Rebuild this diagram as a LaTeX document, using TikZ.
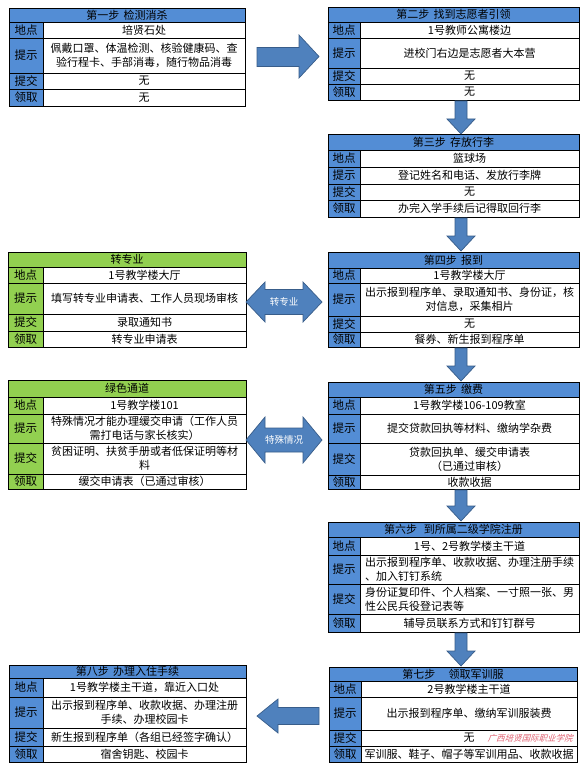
\documentclass[tikz,border=0pt]{standalone}
\usepackage{fontspec}
\setmainfont{Noto Sans CJK SC}
\definecolor{hblue}{HTML}{538DD5}
\definecolor{hgreen}{HTML}{92D050}
\definecolor{ablue}{HTML}{4F81BD}
\definecolor{aedge}{HTML}{385D8A}
\definecolor{wmred}{HTML}{E06070}
\newcommand\fsz{\fontsize{11pt}{14pt}\selectfont}
\def\cf{hblue}
\tikzset{
  cellbase/.style={rectangle, draw=black, line width=0.7pt, inner sep=0pt, outer sep=0pt, font=\fsz, text=black, align=center},
  hdrcell/.style={cellbase, fill=\cf},
  labcell/.style={cellbase, fill=\cf, font=\fontsize{11.5pt}{14pt}\selectfont},
  concell/.style={cellbase, fill=white},
  blockarrow/.style={fill=ablue, draw=aedge, line width=0.7pt, line join=miter},
  arrowtext/.style={text=white, font=\fontsize{9.5pt}{11pt}\selectfont, inner sep=0pt}
}
\newcommand\mkhdr[6]{\pgfmathsetmacro\bxw{#3-#2}\pgfmathsetmacro\bxh{#5-#4}%
  \node[hdrcell, minimum width=\bxw pt, minimum height=\bxh pt] (#1) at ({(#2+#3)/2},{(#4+#5)/2}) {#6};}
\newcommand\mkrow[9]{\pgfmathsetmacro\bxl{#3-#2}\pgfmathsetmacro\bxw{#4-#3}\pgfmathsetmacro\bxh{#6-#5}%
  \node[labcell, minimum width=\bxl pt, minimum height=\bxh pt] (#1l) at ({(#2+#3)/2},{(#5+#6)/2}) {#7};
  \node[concell, align=#9, minimum width=\bxw pt, minimum height=\bxh pt] (#1c) at ({(#3+#4)/2},{(#5+#6)/2}) {#8};}
\newcommand\darrow[3]{%
  \draw[blockarrow] (455,#1) -- (467,#1) -- (467,#2) -- (475,#2) -- (461,#3) -- (447,#2) -- (455,#2) -- cycle;}
\newcommand\dblarrow[3]{%
  \draw[blockarrow] (246,#1) -- (265,{#1-#3}) -- (265,{#1-#2}) -- (303,{#1-#2}) -- (303,{#1-#3}) -- (322,#1)
     -- (303,{#1+#3}) -- (303,{#1+#2}) -- (265,{#1+#2}) -- (265,{#1+#3}) -- cycle;}
\begin{document}
\begin{tikzpicture}[x=1pt,y=-1pt]
\useasboundingbox[fill=white] (0,0) rectangle (585,770);

% ---- Step 1
\mkhdr{s1h}{9}{245}{8}{22}{第一步\hspace{0.4em}检测消杀}
\mkrow{s1a}{9}{43}{245}{22}{38}{地点}{培贤石处}{center}
\mkrow{s1b}{9}{43}{245}{38}{73}{提示}{佩戴口罩、体温检测、核验健康码、查\\验行程卡、手部消毒，随行物品消毒}{center}
\mkrow{s1c}{9}{43}{245}{73}{89}{提交}{无}{center}
\mkrow{s1d}{9}{43}{245}{89}{106}{领取}{无}{center}

% ---- Step 2
\mkhdr{s2h}{328}{579}{7}{22}{第二步\hspace{0.4em}找到志愿者引领}
\mkrow{s2a}{328}{360}{579}{22}{38}{地点}{1号教师公寓楼边}{center}
\mkrow{s2b}{328}{360}{579}{38}{68}{提示}{进校门右边是志愿者大本营}{center}
\mkrow{s2c}{328}{360}{579}{68}{84}{提交}{无}{center}
\mkrow{s2d}{328}{360}{579}{84}{100}{领取}{无}{center}

% ---- Step 3
\mkhdr{s3h}{328}{579}{134}{150}{第三步\hspace{0.4em}存放行李}
\mkrow{s3a}{328}{360}{579}{150}{167}{地点}{篮球场}{center}
\mkrow{s3b}{328}{360}{579}{167}{184}{提示}{登记姓名和电话、发放行李牌}{center}
\mkrow{s3c}{328}{360}{579}{184}{200}{提交}{无}{center}
\mkrow{s3d}{328}{360}{579}{200}{217}{领取}{办完入学手续后记得取回行李}{center}

% ---- Step 4
\mkhdr{s4h}{328}{579}{252}{268}{第四步\hspace{0.4em}报到}
\mkrow{s4a}{328}{360}{579}{268}{283}{地点}{1号教学楼大厅}{center}
\mkrow{s4b}{328}{360}{579}{283}{316}{提示}{出示报到程序单、录取通知书、身份证，核\\对信息，采集相片}{center}
\mkrow{s4c}{328}{360}{579}{316}{332}{提交}{无}{center}
\mkrow{s4d}{328}{360}{579}{332}{347}{领取}{餐券、新生报到程序单}{center}

% ---- Step 5
\mkhdr{s5h}{328}{579}{382}{397}{第五步\hspace{0.4em}缴费}
\mkrow{s5a}{328}{360}{579}{397}{414}{地点}{1号教学楼106-109教室}{center}
\mkrow{s5b}{328}{360}{579}{414}{443}{提示}{提交贷款回执等材料、缴纳学杂费}{center}
\mkrow{s5c}{328}{360}{579}{443}{475}{提交}{贷款回执单、缓交申请表\\（已通过审核）}{center}
\mkrow{s5d}{328}{360}{579}{475}{489}{领取}{收款收据}{center}

% ---- Step 6
\mkhdr{s6h}{328}{579}{522}{537}{第六步\hspace{0.6em}到所属二级学院注册}
\mkrow{s6a}{328}{360}{579}{537}{555}{地点}{1号、2号教学楼主干道}{center}
\mkrow{s6b}{328}{360}{579}{555}{584}{提示}{出示报到程序单、收款收据、办理注册手续\\、加入钉钉系统}{left}
\mkrow{s6c}{328}{360}{579}{584}{614}{提交}{身份证复印件、个人档案、一寸照一张、男\\性公民兵役登记表等}{left}
\mkrow{s6d}{328}{360}{579}{614}{632}{领取}{辅导员联系方式和钉钉群号}{center}

% ---- Step 7
\mkhdr{s7h}{329}{577}{667}{681}{第七步\hspace{1.2em}领取军训服}
\mkrow{s7a}{329}{361}{577}{681}{697}{地点}{2号教学楼主干道}{center}
\mkrow{s7b}{329}{361}{577}{697}{730}{提示}{出示报到程序单、缴纳军训服装费}{center}
\mkrow{s7c}{329}{361}{577}{730}{746}{提交}{无}{center}
\mkrow{s7d}{329}{361}{577}{746}{762}{领取}{军训服、鞋子、帽子等军训用品、收款收据}{center}

% ---- Step 8
\mkhdr{s8h}{9}{246}{665}{678}{第八步\hspace{0.4em}办理入住手续}
\mkrow{s8a}{9}{43}{246}{678}{697}{地点}{1号教学楼主干道，靠近入口处}{center}
\mkrow{s8b}{9}{43}{246}{697}{728}{提示}{出示报到程序单、收款收据、办理注册\\手续、办理校园卡}{center}
\mkrow{s8c}{9}{43}{246}{728}{746}{提交}{新生报到程序单（各组已经签字确认）}{center}
\mkrow{s8d}{9}{43}{246}{746}{762}{领取}{宿舍钥匙、校园卡}{center}

% ---- Green boxes
\def\cf{hgreen}
\mkhdr{g1h}{8}{246}{252}{267}{转专业}
\mkrow{g1a}{8}{43}{246}{267}{283}{地点}{1号教学楼大厅}{center}
\mkrow{g1b}{8}{43}{246}{283}{314}{提示}{填写转专业申请表、工作人员现场审核}{center}
\mkrow{g1c}{8}{43}{246}{314}{331}{提交}{录取通知书}{center}
\mkrow{g1d}{8}{43}{246}{331}{347}{领取}{转专业申请表}{center}

\mkhdr{g2h}{8}{246}{380}{397}{绿色通道}
\mkrow{g2a}{8}{43}{246}{397}{414}{地点}{1号教学楼101}{center}
\mkrow{g2b}{8}{43}{246}{414}{443}{提示}{特殊情况才能办理缓交申请（工作人员\\需打电话与家长核实）}{center}
\mkrow{g2c}{8}{43}{246}{443}{474}{提交}{贫困证明、扶贫手册或者低保证明等材\\料}{center}
\mkrow{g2d}{8}{43}{246}{474}{489}{领取}{缓交申请表（已通过审核）}{center}

% ---- Arrows
\draw[blockarrow] (257,47.5) -- (299,47.5) -- (299,35) -- (319,56.5) -- (299,78) -- (299,66.5) -- (257,66.5) -- cycle;
\darrow{101}{119}{134}
\darrow{218}{236}{251}
\darrow{348}{366}{381}
\darrow{490}{506}{521}
\darrow{633}{651}{666}
\draw[blockarrow] (257,716) -- (278,699) -- (278,707.5) -- (319,707.5) -- (319,724.5) -- (278,724.5) -- (278,733) -- cycle;

\dblarrow{302}{12.5}{20}
\node[arrowtext] (t1) at (284,302) {转专业};
\dblarrow{440}{12}{23}
\node[arrowtext] (t2) at (284,440) {特殊情况};

% ---- watermark
\node[text=wmred, font=\fontsize{8.5pt}{9pt}\selectfont, xslant=0.3, inner sep=0pt] (wm) at (531,738) {广西培贤国际职业学院};
\end{tikzpicture}
\end{document}
